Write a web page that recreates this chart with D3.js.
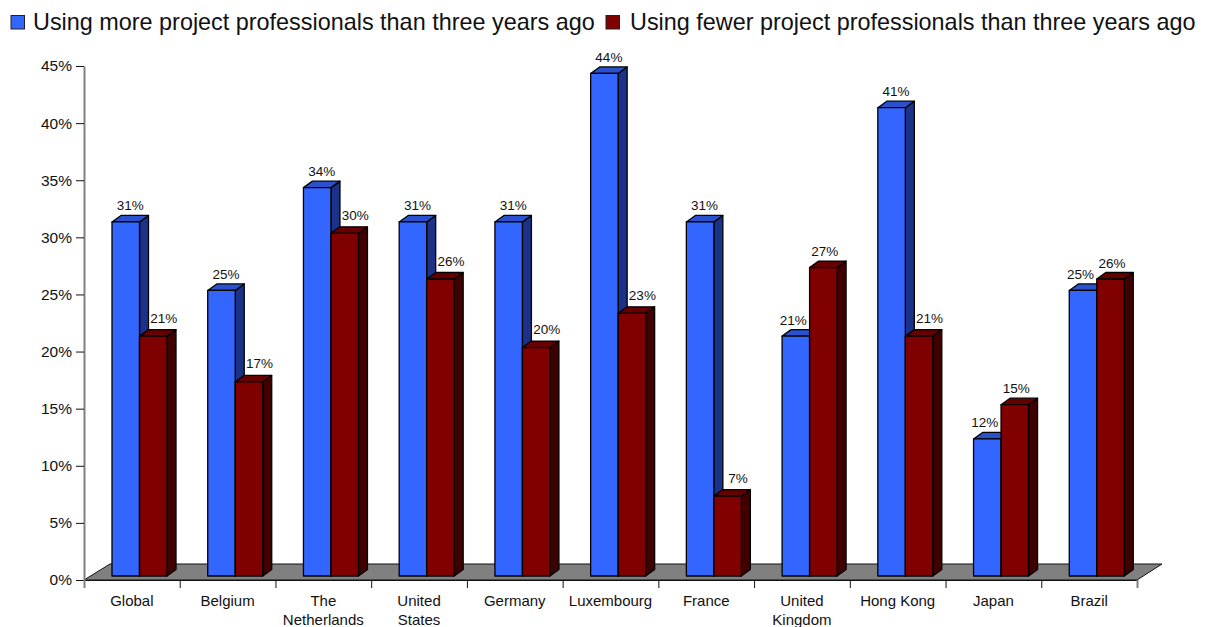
<!DOCTYPE html>
<html>
<head>
<meta charset="utf-8">
<title></title>
<style>
body { margin: 0; background: #fff; }
text { font-family: "Liberation Sans", Arial, sans-serif; fill: #111; }
</style>
</head>
<body>
<div id="chart"></div>
<script src="https://cdnjs.cloudflare.com/ajax/libs/d3/7.8.5/d3.min.js"></script>
<script>
var categories = [["Global"], ["Belgium"], ["The", "Netherlands"], ["United", "States"], ["Germany"], ["Luxembourg"], ["France"], ["United", "Kingdom"], ["Hong Kong"], ["Japan"], ["Brazil"]];
var moreValues = [31, 25, 34, 31, 31, 44, 31, 21, 41, 12, 25];
var fewerValues = [21, 17, 30, 26, 20, 23, 7, 27, 21, 15, 26];
var yTicks = [0, 5, 10, 15, 20, 25, 30, 35, 40, 45];
var seriesNames = ["Using more project professionals than three years ago", "Using fewer project professionals than three years ago"];

var w = 1207, h = 627;
var plotLeft = 84, plotRight = 1137, plotTop = 66, floorY = 580;
var floorDx = 26, floorDy = -16;   // depth of the gray floor
var depthX = 9, depthY = -6.5;     // depth of one bar
var barW = 27.5, barOffset = 28, baseLift = 4;

var svg = d3.select("#chart").append("svg")
    .attr("width", w)
    .attr("height", h)
    .style("display", "block");

var yScale = d3.scaleLinear().domain([0, 45]).range([floorY, plotTop]);
var xScale = d3.scaleLinear().domain([0, categories.length]).range([plotLeft, plotRight]);

var colors = [
    {front: "#3366ff", side: "#1a3388", top: "#2952cc", dx: 0},
    {front: "#800000", side: "#400000", top: "#660000", dx: barW}
];

// floor
var fp = [[plotLeft, floorY], [plotRight, floorY], [plotRight + floorDx - 1, floorY + floorDy], [plotLeft + floorDx, floorY + floorDy]];
svg.append("polygon")
    .attr("points", fp.join(" "))
    .attr("fill", "#808080")
    .attr("stroke", "#111")
    .attr("stroke-width", 1);

// axes
var yAxis = svg.append("g")
    .attr("transform", "translate(" + plotLeft + ",0)")
    .call(d3.axisLeft(yScale).tickValues(yTicks).tickSize(8).tickPadding(4).tickSizeOuter(0).tickFormat(function(d) { return d + "%"; }));
yAxis.attr("font-family", null);
yAxis.select(".domain").attr("stroke", "#808080").attr("stroke-width", 2);
yAxis.selectAll(".tick line").attr("stroke", "#111");
yAxis.selectAll(".tick text").attr("font-size", "15.5px").attr("fill", null);

var xAxis = svg.append("g")
    .attr("transform", "translate(0," + floorY + ")")
    .call(d3.axisBottom(xScale).tickValues(d3.range(categories.length + 1)).tickSize(8).tickSizeOuter(0).tickFormat(""));
xAxis.select(".domain").attr("stroke", "#111");
xAxis.selectAll(".tick line").attr("stroke", "#111");
xAxis.selectAll(".tick line").filter(function(d) { return d === 0 || d === categories.length; }).attr("stroke", "#808080").attr("stroke-width", 2);

// category labels
categories.forEach(function(lines, i) {
    var t = svg.append("text")
        .attr("x", xScale(i + 0.5))
        .attr("y", 606)
        .attr("text-anchor", "middle")
        .attr("font-size", "15px");
    lines.forEach(function(line, j) {
        t.append("tspan")
            .attr("x", xScale(i + 0.5))
            .attr("dy", j === 0 ? 0 : 19)
            .text(line);
    });
});

function drawBar(v, i, c) {
    var x0 = xScale(i) + barOffset + c.dx;
    var x1 = x0 + barW;
    var yT = yScale(v) - baseLift;
    var yB = floorY - baseLift;
    var g = svg.append("g").attr("stroke", "#000").attr("stroke-width", 1.3).attr("stroke-linejoin", "round");
    g.append("polygon")
        .attr("points", [[x1, yT], [x1 + depthX, yT + depthY], [x1 + depthX, yB + depthY], [x1, yB]].join(" "))
        .attr("fill", c.side);
    g.append("polygon")
        .attr("points", [[x0, yT], [x0 + depthX, yT + depthY], [x1 + depthX, yT + depthY], [x1, yT]].join(" "))
        .attr("fill", c.top);
    g.append("rect")
        .attr("x", x0)
        .attr("y", yT)
        .attr("width", barW)
        .attr("height", yB - yT)
        .attr("fill", c.front);
    return {x: x0 + (barW + depthX) / 2, y: yT + depthY};
}

// labels go on last, above every bar; they step aside when the pair would collide
var labels = [];
categories.forEach(function(cat, i) {
    var more = moreValues[i], fewer = fewerValues[i];
    var a = drawBar(more, i, colors[0]);
    var b = drawBar(fewer, i, colors[1]);
    labels.push({x: a.x + (more < fewer ? -7 : 0), y: a.y - 5, v: more});
    labels.push({x: b.x + (fewer < more ? 6 : -3), y: b.y - (fewer < more ? 7 : 5), v: fewer});
});
svg.append("g").selectAll("text")
    .data(labels)
    .join("text")
    .attr("x", function(d) { return d.x; })
    .attr("y", function(d) { return d.y; })
    .attr("text-anchor", "middle")
    .attr("font-size", "13.5px")
    .text(function(d) { return d.v + "%"; });

// legend
var legendX = [11, 606];
var legendTextX = [33, 630];
seriesNames.forEach(function(name, i) {
    svg.append("rect")
        .attr("x", legendX[i])
        .attr("y", 15.5)
        .attr("width", 13.5)
        .attr("height", 13.5)
        .attr("fill", colors[i].front)
        .attr("stroke", "#222");
    svg.append("text")
        .attr("x", legendTextX[i])
        .attr("y", 30)
        .attr("font-size", "23.4px")
        .text(name);
});
</script>
</body>
</html>
